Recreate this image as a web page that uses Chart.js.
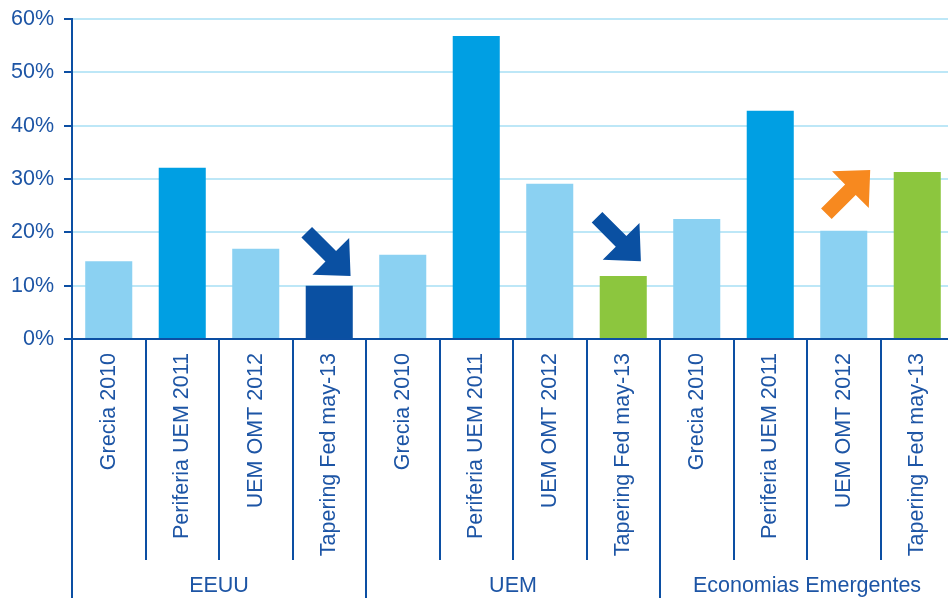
<!DOCTYPE html>
<html lang="es">
<head>
  <meta charset="UTF-8">
  <title>Impacto por episodio</title>
  <script src="https://cdn.jsdelivr.net/npm/chart.js"></script>
  <style>
    html, body {
      margin: 0;
      padding: 0;
      overflow: hidden;
      background: #fff;
    }
  </style>
</head>
<body>
  <canvas id="impact-chart" width="954" height="598"></canvas>

  <script>
    // Episodes repeated for each region
    const episodes = ['Grecia 2010', 'Periferia UEM 2011', 'UEM OMT 2012', 'Tapering Fed may-13'];
    const regions = ['EEUU', 'UEM', 'Economias Emergentes'];
    const categories = regions.flatMap(() => episodes);

    // Values in %
    const values = [14.6, 32.1, 16.9, 10.0, 15.8, 56.8, 29.1, 11.8, 22.5, 42.8, 20.3, 31.3];
    const yTicks = [0, 10, 20, 30, 40, 50, 60];

    const LIGHT = '#8bd1f2';
    const MID = '#009fe3';
    const DARK = '#0a50a2';
    const GREEN = '#8cc63e';
    const ORANGE = '#f7891f';
    const AXIS = '#0c4fa3';
    const TEXT = '#1d55a5';
    const GRID = '#bde7f7';

    const barColors = [
      LIGHT, MID, LIGHT, DARK,
      LIGHT, MID, LIGHT, GREEN,
      LIGHT, MID, LIGHT, GREEN
    ];

    // Direction arrows: bar index, tip value on the y scale, direction,
    // tip shift from the bar centre in category units
    const arrows = [
      { index: 3, tip: 11.8, dir: 'down', color: DARK, dx: 0.29 },
      { index: 7, tip: 14.6, dir: 'down', color: DARK, dx: 0.24 },
      { index: 10, tip: 31.7, dir: 'up', color: ORANGE, dx: 0.36 }
    ];

    const FONT = '"Liberation Sans", Arial, sans-serif';
    const FONT_SIZE = 21.5;

    function drawArrow(ctx, tipX, tipY, dir, color) {
      // arrow built pointing along +x, tip at origin, then rotated 45 degrees
      const L = 62, headLen = 28, headHalf = 26, shaftHalf = 7.5;
      const pts = [
        [0, 0], [-headLen, headHalf], [-headLen, shaftHalf], [-L, shaftHalf],
        [-L, -shaftHalf], [-headLen, -shaftHalf], [-headLen, -headHalf]
      ];
      const angle = dir === 'down' ? Math.PI / 4 : -Math.PI / 4;
      ctx.save();
      ctx.translate(tipX, tipY);
      ctx.rotate(angle);
      ctx.beginPath();
      pts.forEach(([x, y], i) => i ? ctx.lineTo(x, y) : ctx.moveTo(x, y));
      ctx.closePath();
      ctx.fillStyle = color;
      ctx.fill();
      ctx.restore();
    }

    const arrowPlugin = {
      id: 'arrows',
      afterDatasetsDraw(chart) {
        const { ctx, scales: { x, y } } = chart;
        arrows.forEach(a => {
          drawArrow(ctx, x.getPixelForValue(a.index + a.dx), y.getPixelForValue(a.tip), a.dir, a.color);
        });
      }
    };

    // Separators between episodes and region labels under the x axis
    const groupPlugin = {
      id: 'groups',
      afterDraw(chart) {
        const { ctx, scales: { x }, chartArea } = chart;
        const top = chartArea.bottom;
        ctx.save();
        ctx.strokeStyle = AXIS;
        ctx.lineWidth = 2;
        for (let i = 0; i <= categories.length; i++) {
          const px = Math.round(x.getPixelForValue(i - 0.5));
          const isGroupEdge = i % episodes.length === 0;
          const bottom = isGroupEdge ? chart.height : top + 221;
          ctx.beginPath();
          ctx.moveTo(px, top);
          ctx.lineTo(px, bottom);
          ctx.stroke();
        }
        ctx.fillStyle = TEXT;
        ctx.font = FONT_SIZE + 'px ' + FONT;
        ctx.textAlign = 'center';
        ctx.textBaseline = 'middle';
        regions.forEach((r, g) => {
          const start = x.getPixelForValue(g * episodes.length - 0.5);
          const end = x.getPixelForValue((g + 1) * episodes.length - 0.5);
          ctx.fillText(r, (start + end) / 2, top + 247);
        });
        ctx.restore();
      }
    };

    new Chart(document.getElementById('impact-chart'), {
      type: 'bar',
      data: {
        labels: categories,
        datasets: [{
          data: values,
          backgroundColor: barColors,
          borderWidth: 0,
          categoryPercentage: 1,
          barPercentage: 0.64
        }]
      },
      options: {
        responsive: false,
        animation: false,
        layout: { padding: { top: 19, right: 0, left: 0, bottom: 0 } },
        plugins: {
          legend: { display: false },
          tooltip: { enabled: false }
        },
        scales: {
          x: {
            offset: true,
            grid: { display: false },
            border: { display: true, color: AXIS, width: 2 },
            ticks: {
              color: TEXT,
              font: { family: FONT, size: FONT_SIZE },
              minRotation: 90,
              maxRotation: 90,
              autoSkip: false,
              padding: 6
            },
            afterFit(scale) { scale.height = 259; }
          },
          y: {
            min: 0,
            max: 60,
            afterBuildTicks(scale) { scale.ticks = yTicks.map(v => ({ value: v })); },
            grid: {
              color: ctx => ctx.tick && ctx.tick.value === 0 ? 'rgba(0,0,0,0)' : GRID,
              lineWidth: 2,
              tickColor: AXIS,
              tickLength: 8
            },
            border: { display: true, color: AXIS, width: 2 },
            ticks: {
              color: TEXT,
              font: { family: FONT, size: FONT_SIZE },
              padding: 10,
              callback: v => v + '%'
            },
            afterFit(scale) {
              scale.width = 72;
              scale.paddingTop = 0;
              scale.paddingBottom = 0;
            }
          }
        }
      },
      plugins: [arrowPlugin, groupPlugin]
    });
  </script>
</body>
</html>
